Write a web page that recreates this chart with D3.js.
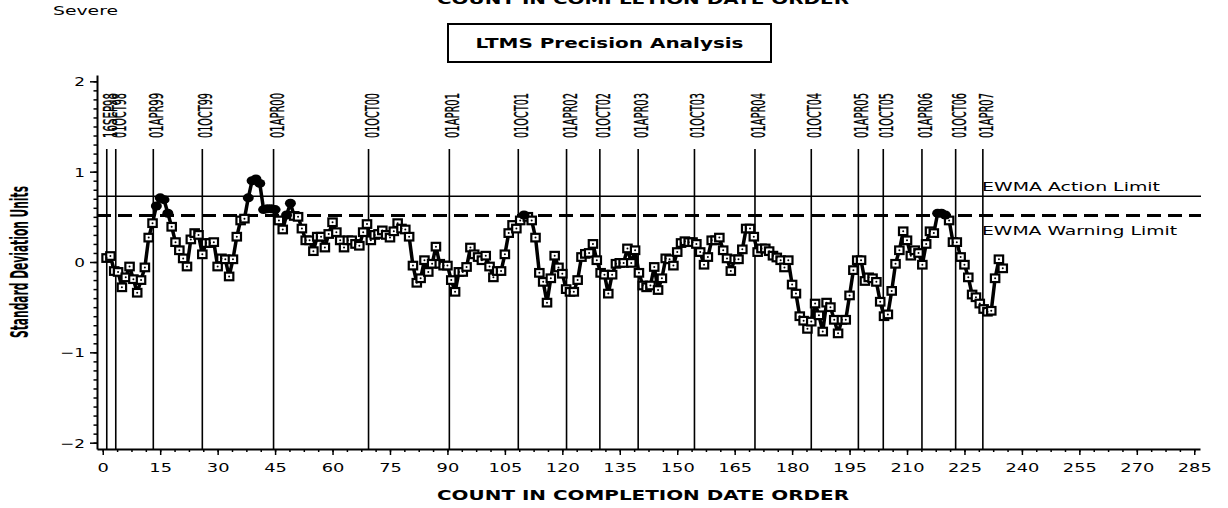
<!DOCTYPE html>
<html>
<head>
<meta charset="utf-8">
<script src="https://cdn.jsdelivr.net/npm/d3@7"></script>
<style>
  body { margin: 0; background: #fff; }
  svg { display: block; }
</style>
</head>
<body>
<svg id="chart" width="1228" height="508"></svg>
<script>
// EWMA values, one per test, in completion order (count 1..235)
var ewmaValues = [
  0.044, 0.066, -0.10, -0.11, -0.28, -0.17, -0.05, -0.19, -0.34, -0.20,
  -0.06, 0.27, 0.43, 0.62, 0.71, 0.69, 0.54, 0.39, 0.22, 0.13,
  0.04, -0.05, 0.25, 0.32, 0.30, 0.085, 0.21, 0.21, 0.22, -0.05,
  0.04, 0.03, -0.16, 0.03, 0.28, 0.46, 0.48, 0.71, 0.90, 0.92,
  0.87, 0.58, 0.59, 0.59, 0.58, 0.46, 0.36, 0.52, 0.65, 0.51,
  0.50, 0.37, 0.24, 0.24, 0.12, 0.28, 0.28, 0.16, 0.31, 0.44,
  0.33, 0.24, 0.16, 0.24, 0.24, 0.20, 0.18, 0.33, 0.42, 0.24,
  0.30, 0.31, 0.35, 0.30, 0.27, 0.34, 0.43, 0.37, 0.36, 0.28,
  -0.04, -0.23, -0.18, 0.02, -0.11, -0.02, 0.17, -0.02, -0.04, -0.04,
  -0.20, -0.33, -0.11, -0.11, -0.055, 0.16, 0.085, 0.055, 0.02, 0.07,
  -0.05, -0.17, -0.10, -0.10, 0.085, 0.32, 0.41, 0.37, 0.46, 0.52,
  0.50, 0.46, 0.27, -0.12, -0.22, -0.45, -0.18, 0.07, -0.06,
  -0.13, -0.30, -0.33, -0.33, -0.20, 0.055, 0.09, 0.10, 0.20, 0.02,
  -0.12, -0.14, -0.35, -0.14, -0.02, -0.01, -0.01, 0.15, -0.01, 0.13,
  -0.12, -0.26, -0.28, -0.26, -0.055, -0.31, -0.18, 0.04, 0.03, -0.04,
  0.11, 0.21, 0.23, 0.22, 0.22, 0.20, 0.11, -0.03, 0.055, 0.24,
  0.24, 0.27, 0.13, 0.04, -0.10, 0.03, 0.03, 0.14, 0.37, 0.37,
  0.28, 0.11, 0.15, 0.15, 0.12, 0.07, 0.05, 0.02, -0.06, 0.02,
  -0.25, -0.35, -0.60, -0.65, -0.74, -0.66, -0.46, -0.59, -0.77, -0.45,
  -0.50, -0.64, -0.79, -0.64, -0.64, -0.37, -0.09, 0.02, 0.02, -0.21,
  -0.17, -0.18, -0.22, -0.44, -0.60, -0.58, -0.32, -0.02, 0.13, 0.34,
  0.24, 0.07, 0.13, 0.10, -0.03, 0.20, 0.34, 0.32, 0.54, 0.54,
  0.52, 0.46, 0.22, 0.22, 0.055, -0.03, -0.17, -0.36, -0.39, -0.46,
  -0.52, -0.55, -0.54, -0.18, 0.03, -0.07
];

// date reference lines (label, position in count units)
var refLabels = ["16SEP98", "01OCT98", "01APR99", "01OCT99", "01APR00", "01OCT00", "01APR01",
                 "01OCT01", "01APR02", "01OCT02", "01APR03", "01OCT03", "01APR04", "01OCT04",
                 "01APR05", "01OCT05", "01APR06", "01OCT06", "01APR07"];
var refCounts = [1.05, 3.4, 13.2, 26.0, 44.6, 69.4, 90.5,
                 108.5, 121.1, 129.8, 139.8, 154.5, 170.3, 185.0,
                 197.3, 203.8, 213.9, 222.7, 229.8];

var xTicks = d3.range(0, 286, 15);
var xMinorTicks = d3.range(0, 286, 3.75);
var yTicks = [-2, -1, 0, 1, 2];
var yMinorTicks = d3.range(-20, 21).map(function(d) { return d / 10; });

var limitLabels = ["EWMA Action Limit", "EWMA Warning Limit"];
var limitValues = [0.727, 0.514];

var svg = d3.select("#chart");

var x = d3.scaleLinear().domain([-1.5, 286.5]).range([97, 1200]);
var y = d3.scaleLinear().domain([-2.07, 2.07]).range([449, 75]);

var wideFont = "DejaVu Sans, Verdana, sans-serif";
var narrowFont = "'Liberation Sans Narrow', 'DejaVu Sans Condensed', 'Arial Narrow', sans-serif";

// top (clipped) title + "Severe"
svg.append("text")
    .attr("x", 437).attr("y", 4)
    .attr("textLength", 412).attr("lengthAdjust", "spacingAndGlyphs")
    .style("font-family", wideFont).style("font-weight", "bold").style("font-size", "14px")
    .text("COUNT IN COMPLETION DATE ORDER");

svg.append("text")
    .attr("x", 53).attr("y", 15)
    .attr("textLength", 65).attr("lengthAdjust", "spacingAndGlyphs")
    .style("font-family", wideFont).style("font-size", "11.5px")
    .text("Severe");

// title box
svg.append("rect")
    .attr("x", 448).attr("y", 24).attr("width", 323).attr("height", 38)
    .attr("fill", "none").attr("stroke", "#000").attr("stroke-width", 2);

svg.append("text")
    .attr("x", 609.5).attr("y", 48)
    .attr("text-anchor", "middle")
    .attr("textLength", 268).attr("lengthAdjust", "spacingAndGlyphs")
    .style("font-family", wideFont).style("font-weight", "bold").style("font-size", "14px")
    .text("LTMS Precision Analysis");

// x axis
var xMinor = svg.append("g")
    .attr("transform", "translate(0,449)")
    .call(d3.axisBottom(x).tickValues(xMinorTicks).tickSize(3).tickFormat(""));
xMinor.select(".domain").remove();

var xAxis = svg.append("g")
    .attr("transform", "translate(0,449)")
    .call(d3.axisBottom(x).tickValues(xTicks).tickSize(6).tickSizeOuter(0).tickPadding(8));
xAxis.select(".domain").attr("stroke-width", 2);
xAxis.selectAll("text")
    .attr("dy", null).attr("y", null)
    .attr("transform", "translate(0,22.5) scale(1.55,1)")
    .style("font-family", wideFont).style("font-size", "11.5px").attr("fill", "#000");
xAxis.selectAll("line").attr("stroke-width", 1.5);
xMinor.selectAll("line").attr("stroke-width", 1.5);

// y axis
var yMinor = svg.append("g")
    .attr("transform", "translate(97,0)")
    .call(d3.axisLeft(y).tickValues(yMinorTicks).tickSize(3.5).tickFormat(""));
yMinor.select(".domain").remove();
yMinor.selectAll("line").attr("stroke-width", 1.5);

var yAxis = svg.append("g")
    .attr("transform", "translate(97,0)")
    .call(d3.axisLeft(y).tickValues(yTicks).tickSize(7).tickSizeOuter(0).tickFormat(d3.format("d")));
yAxis.select(".domain").attr("stroke-width", 2);
yAxis.selectAll("line").attr("stroke-width", 1.5);
yAxis.selectAll("text")
    .attr("x", null).attr("dy", "0.36em")
    .attr("transform", "translate(-12,0) scale(1.35,1)")
    .style("font-family", wideFont).style("font-size", "12.5px").attr("fill", "#000");

// axis titles
svg.append("text")
    .attr("x", 437).attr("y", 500)
    .attr("textLength", 412).attr("lengthAdjust", "spacingAndGlyphs")
    .style("font-family", wideFont).style("font-weight", "bold").style("font-size", "14px")
    .text("COUNT IN COMPLETION DATE ORDER");

svg.append("text")
    .attr("transform", "translate(27.5,262) rotate(-90)")
    .attr("text-anchor", "middle")
    .attr("textLength", 152).attr("lengthAdjust", "spacingAndGlyphs")
    .style("font-family", narrowFont).style("font-weight", "bold").style("font-size", "24px")
    .text("Standard Deviation Units");

// date reference lines
var refs = svg.append("g").selectAll("g")
    .data(refCounts)
    .enter().append("g");

refs.append("line")
    .attr("x1", function(d) { return x(d); })
    .attr("x2", function(d) { return x(d); })
    .attr("y1", 149).attr("y2", 449)
    .attr("stroke", "#000").attr("stroke-width", 1.6);

refs.append("text")
    .attr("transform", function(d) { return "translate(" + (x(d) + 10) + ",138) rotate(-90)"; })
    .attr("textLength", 45).attr("lengthAdjust", "spacingAndGlyphs")
    .attr("stroke", "#000").attr("stroke-width", 0.35)
    .style("font-family", narrowFont).style("font-size", "20px")
    .text(function(d, i) { return refLabels[i]; });

// limit lines
svg.append("line")
    .attr("x1", 97).attr("x2", 1201)
    .attr("y1", y(limitValues[0])).attr("y2", y(limitValues[0]))
    .attr("stroke", "#000").attr("stroke-width", 1.6);

svg.append("line")
    .attr("x1", 97).attr("x2", 1201)
    .attr("y1", y(limitValues[1])).attr("y2", y(limitValues[1]))
    .attr("stroke", "#000").attr("stroke-width", 3)
    .attr("stroke-dasharray", "14 7");

svg.append("text")
    .attr("x", 982).attr("y", 190.5)
    .attr("textLength", 178).attr("lengthAdjust", "spacingAndGlyphs")
    .style("font-family", wideFont).style("font-size", "12.3px")
    .text(limitLabels[0]);

svg.append("text")
    .attr("x", 982).attr("y", 235)
    .attr("textLength", 195).attr("lengthAdjust", "spacingAndGlyphs")
    .style("font-family", wideFont).style("font-size", "12.3px")
    .text(limitLabels[1]);

// EWMA line
var pts = ewmaValues.map(function(v, i) { return {n: i + 1, v: v}; });

svg.append("path")
    .datum(pts)
    .attr("fill", "none").attr("stroke", "#000").attr("stroke-width", 3.5)
    .attr("stroke-linejoin", "round")
    .attr("d", d3.line().x(function(d) { return x(d.n); }).y(function(d) { return y(d.v); }));

// markers: open squares, filled blobs above the warning limit
var inside = pts.filter(function(d) { return d.v <= limitValues[1]; });
var outside = pts.filter(function(d) { return d.v > limitValues[1]; });

svg.append("g").selectAll("rect")
    .data(inside)
    .enter().append("rect")
    .attr("x", function(d) { return x(d.n) - 4.2; })
    .attr("y", function(d) { return y(d.v) - 3.8; })
    .attr("width", 8.4).attr("height", 7.6)
    .attr("fill", "#fff").attr("stroke", "#000").attr("stroke-width", 2.2);

svg.append("g").selectAll("circle")
    .data(inside)
    .enter().append("circle")
    .attr("cx", function(d) { return x(d.n); })
    .attr("cy", function(d) { return y(d.v); })
    .attr("r", 1).attr("fill", "#000");

svg.append("g").selectAll("ellipse")
    .data(outside)
    .enter().append("ellipse")
    .attr("cx", function(d) { return x(d.n); })
    .attr("cy", function(d) { return y(d.v); })
    .attr("rx", 5.5).attr("ry", 4.5).attr("fill", "#000");
</script>
</body>
</html>
